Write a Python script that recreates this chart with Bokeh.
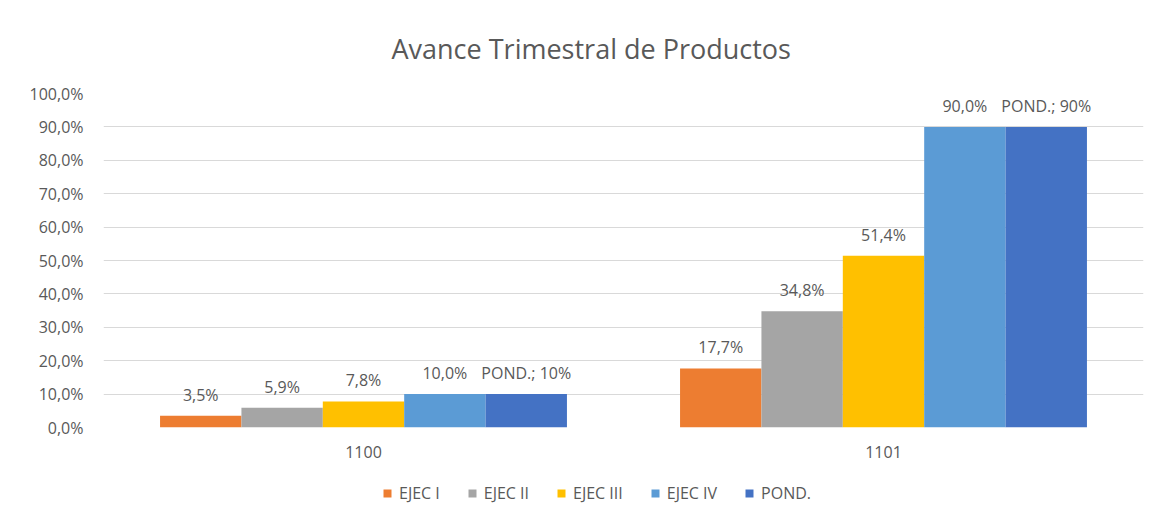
from bokeh.plotting import figure
from bokeh.layouts import column
from bokeh.models import ColumnDataSource, LabelSet, Legend, LegendItem, FixedTicker, Range1d
from bokeh.core.properties import value
from bokeh.transform import dodge
from bokeh.embed import file_html
from bokeh.resources import INLINE

categories = ["1100", "1101"]
series_names = ["EJEC I", "EJEC II", "EJEC III", "EJEC IV", "POND."]
ejec_i = [3.5, 17.7]
ejec_ii = [5.9, 34.8]
ejec_iii = [7.8, 51.4]
ejec_iv = [10.0, 90.0]
pond = [10.0, 90.0]
colors = ["#ED7D31", "#A5A5A5", "#FFC000", "#5B9BD5", "#4472C4"]
y_ticks = [0, 10, 20, 30, 40, 50, 60, 70, 80, 90, 100]

FONT = "Open Sans"
GREY = "#595959"

p = figure(x_range=categories, y_range=(0, 100), width=1162, height=470,
           output_backend="svg", toolbar_location=None,
           min_border_left=103, min_border_right=19, min_border_top=93, min_border_bottom=43)
p.title.text = "Avance Trimestral de Productos"
p.title.align = "left"
p.title.offset = 288
p.title.text_font = FONT
p.title.text_font_size = "27px"
p.title.text_font_style = "normal"
p.title.text_color = GREY
p.title.standoff = 53

p.outline_line_color = None
p.xgrid.grid_line_color = None
p.ygrid.grid_line_color = "#D9D9D9"
p.ygrid.grid_line_width = 1
p.yaxis.ticker = FixedTicker(ticks=y_ticks)
p.yaxis.major_label_overrides = {t: f"{t:.1f}".replace(".", ",") + "%" for t in y_ticks}
for ax in (p.xaxis[0], p.yaxis[0]):
    ax.axis_line_color = None
    ax.major_tick_line_color = None
    ax.minor_tick_line_color = None
    ax.major_label_text_font = FONT
    ax.major_label_text_font_size = "16px"
    ax.major_label_text_color = GREY
p.yaxis.major_label_standoff = 14
p.xaxis.major_label_standoff = 12

values = [ejec_i, ejec_ii, ejec_iii, ejec_iv, pond]
bw = 0.1565
offsets = [-2 * bw, -bw, 0, bw, 2 * bw]
for name, vals, col, off in zip(series_names, values, colors, offsets):
    if name == "POND.":
        labels = [f"POND.; {v:.0f}%" for v in vals]
    else:
        labels = [f"{v:.1f}".replace(".", ",") + "%" for v in vals]
    src = ColumnDataSource(dict(cat=categories, val=vals, lab=labels))
    p.vbar(x=dodge("cat", off, range=p.x_range), top="val", width=bw,
           source=src, fill_color=col, line_color=None)
    ls = LabelSet(x=dodge("cat", off, range=p.x_range), y="val", text="lab", source=src,
                  y_offset=15, text_align="center", text_baseline="alphabetic",
                  text_font=value(FONT), text_font_size=value("16px"), text_color=GREY)
    p.add_layout(ls)

# legend strip below the chart (swatches only: their bars lie outside the strip's range)
lg = figure(width=1162, height=46, output_backend="svg", toolbar_location=None,
            x_range=Range1d(0, 1), y_range=Range1d(0, 1),
            x_axis_location=None, y_axis_location=None,
            min_border_left=0, min_border_right=0, min_border_top=0, min_border_bottom=0)
lg.grid.visible = False
lg.outline_line_color = None
items = []
for name, col in zip(series_names, colors):
    r = lg.vbar(x=[-5], top=[-5], bottom=[-6], width=0.1, fill_color=col, line_color=None)
    items.append(LegendItem(label=name, renderers=[r]))
legend = Legend(items=items, orientation="horizontal", location=(279, 12),
                label_text_font=FONT, label_text_font_size="16px", label_text_color=GREY,
                glyph_width=10, glyph_height=10, label_standoff=7, spacing=27,
                border_line_color=None, background_fill_alpha=0, margin=0, padding=2)
lg.add_layout(legend)

open("out.html", "w").write(file_html(column(p, lg, spacing=0), INLINE))
